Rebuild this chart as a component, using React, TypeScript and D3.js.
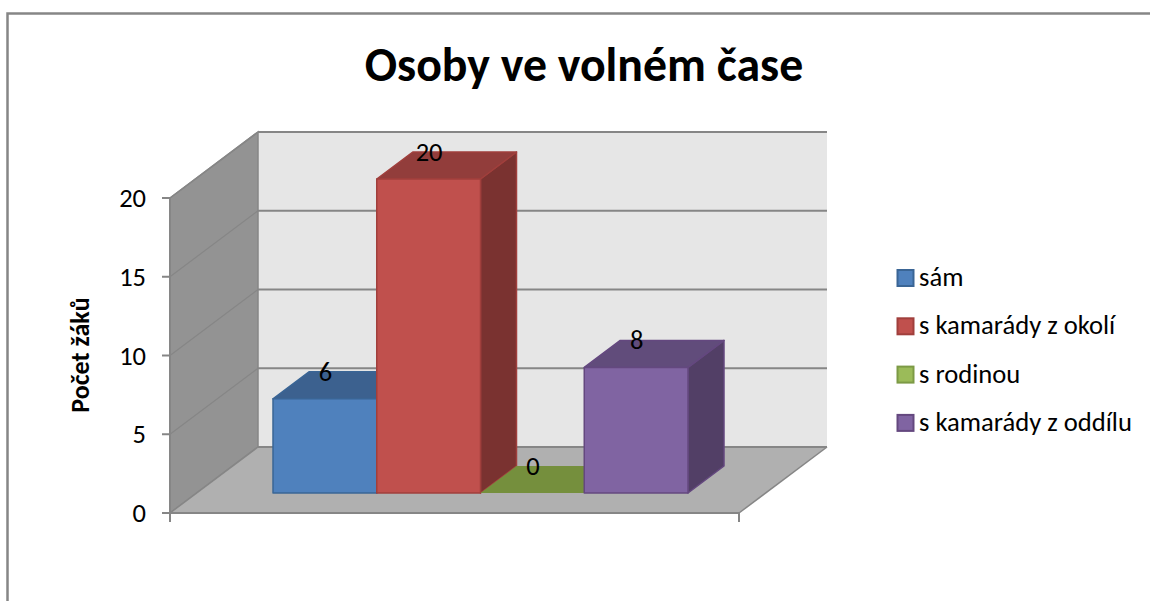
import React from "react";
import * as d3 from "d3";

const seriesNames = ["sám", "s kamarády z okolí", "s rodinou", "s kamarády z oddílu"];
const seriesValues = [6, 20, 0, 8];
const yTicks = [0, 5, 10, 15, 20];
const chartTitle = "Osoby ve volném čase";
const yAxisTitle = "Počet žáků";
const frontColors = ["#4f81bd", "#c0504d", "#9bbb59", "#8064a2"];
const topColors = ["#3c618f", "#923d3b", "#758f3d", "#614c7b"];
const sideColors = ["#32507a", "#7a3230", "#617a33", "#523f66"];
const edgeColors = ["#3a6595", "#a03f3c", "#7c9a45", "#64487f"];

const FONT = "Carlito, Lato, 'Open Sans', sans-serif";

export default function App() {
  const y = d3.scaleLinear().domain([0, 20]).range([513, 198]);
  const barY = d3.scaleLinear().domain([0, 20]).range([493, 179]);
  const x = d3.scaleBand<number>().domain(d3.range(4)).range([273, 688]).padding(0);
  const dx = 88, dy = -66; // wall depth
  const bx = 36, by = -27; // bar depth
  const left = 170, right = 739;
  const poly = (p: number[][]) => p.map((q) => q.join(",")).join(" ");
  const w = x.bandwidth();

  return (
    <svg width={1150} height={601} style={{ position: "absolute", left: 0, top: 0, background: "#fff" }} fontFamily={FONT}>
      <path d="M7.5,601 V13.5 H1150" fill="none" stroke="#868686" strokeWidth={2.5} />
      <text x={584} y={81} textAnchor="middle" fontSize={47.8} fontWeight={700} fill="#000">{chartTitle}</text>

      {/* walls */}
      <polygon points={poly([[left + dx, y(20) + dy], [right + dx, y(20) + dy], [right + dx, y(0) + dy], [left + dx, y(0) + dy]])} fill="#e6e6e6" />
      <polygon points={poly([[left, y(20)], [left + dx, y(20) + dy], [left + dx, y(0) + dy], [left, y(0)]])} fill="#939393" stroke="#868686" strokeWidth={1.5} />
      <polygon points={poly([[left, y(0)], [right, y(0)], [right + dx, y(0) + dy], [left + dx, y(0) + dy]])} fill="#b0b0b0" />
      {yTicks.map((t) => (
        <g key={t} fill="none" stroke="#868686">
          <line x1={left} y1={y(t)} x2={left + dx} y2={y(t) + dy} strokeWidth={t === 0 || t === 20 ? 1.5 : 1.2} />
          <line x1={left + dx} y1={y(t) + dy} x2={right + dx} y2={y(t) + dy} strokeWidth={2} />
          <line x1={left - 8} y1={y(t)} x2={left} y2={y(t)} strokeWidth={2} />
        </g>
      ))}
      <line x1={left} y1={y(20)} x2={left} y2={522} stroke="#868686" strokeWidth={2} />
      <line x1={left} y1={y(0)} x2={right} y2={y(0)} stroke="#868686" strokeWidth={2} />
      <line x1={right} y1={y(0)} x2={right + dx} y2={y(0) + dy} stroke="#868686" strokeWidth={1.5} />
      <line x1={right} y1={y(0)} x2={right} y2={522} stroke="#868686" strokeWidth={2} />

      {/* bars */}
      {seriesValues.map((v, i) => {
        const x0 = x(i)!, x1 = x0 + w, yb = barY(0), yt = barY(v);
        return (
          <g key={i} stroke={edgeColors[i]} strokeWidth={1.5} strokeLinejoin="round">
            {v > 0 && <polygon points={poly([[x1, yt], [x1 + bx, yt + by], [x1 + bx, yb + by], [x1, yb]])} fill={sideColors[i]} />}
            <polygon points={poly([[x0, yt], [x1, yt], [x1 + bx, yt + by], [x0 + bx, yt + by]])} fill={topColors[i]} stroke={v > 0 ? edgeColors[i] : "none"} />
            {v > 0 && <rect x={x0} y={yt} width={w} height={yb - yt} fill={frontColors[i]} />}
          </g>
        );
      })}
      {seriesValues.map((v, i) => (
        <text key={i} x={x(i)! + w / 2 + 0.5} y={barY(v) - 18} textAnchor="middle" fontSize={26.5} fill="#000">{v}</text>
      ))}

      {/* y axis */}
      {yTicks.map((t) => (
        <text key={t} x={146} y={y(t) + 9} textAnchor="end" fontSize={26.5} fill="#000">{t}</text>
      ))}
      <text transform="translate(89,355) rotate(-90)" textAnchor="middle" fontSize={26} fontWeight={700} fill="#000">{yAxisTitle}</text>

      {/* legend */}
      {seriesNames.map((n, i) => (
        <g key={n} transform={`translate(0,${278 + i * 48.3})`}>
          <rect x={897.5} y={-8} width={16} height={16} fill={frontColors[i]} stroke={edgeColors[i]} strokeWidth={2} />
          <text x={919} y={8} fontSize={26.6} fill="#000">{n}</text>
        </g>
      ))}
    </svg>
  );
}
